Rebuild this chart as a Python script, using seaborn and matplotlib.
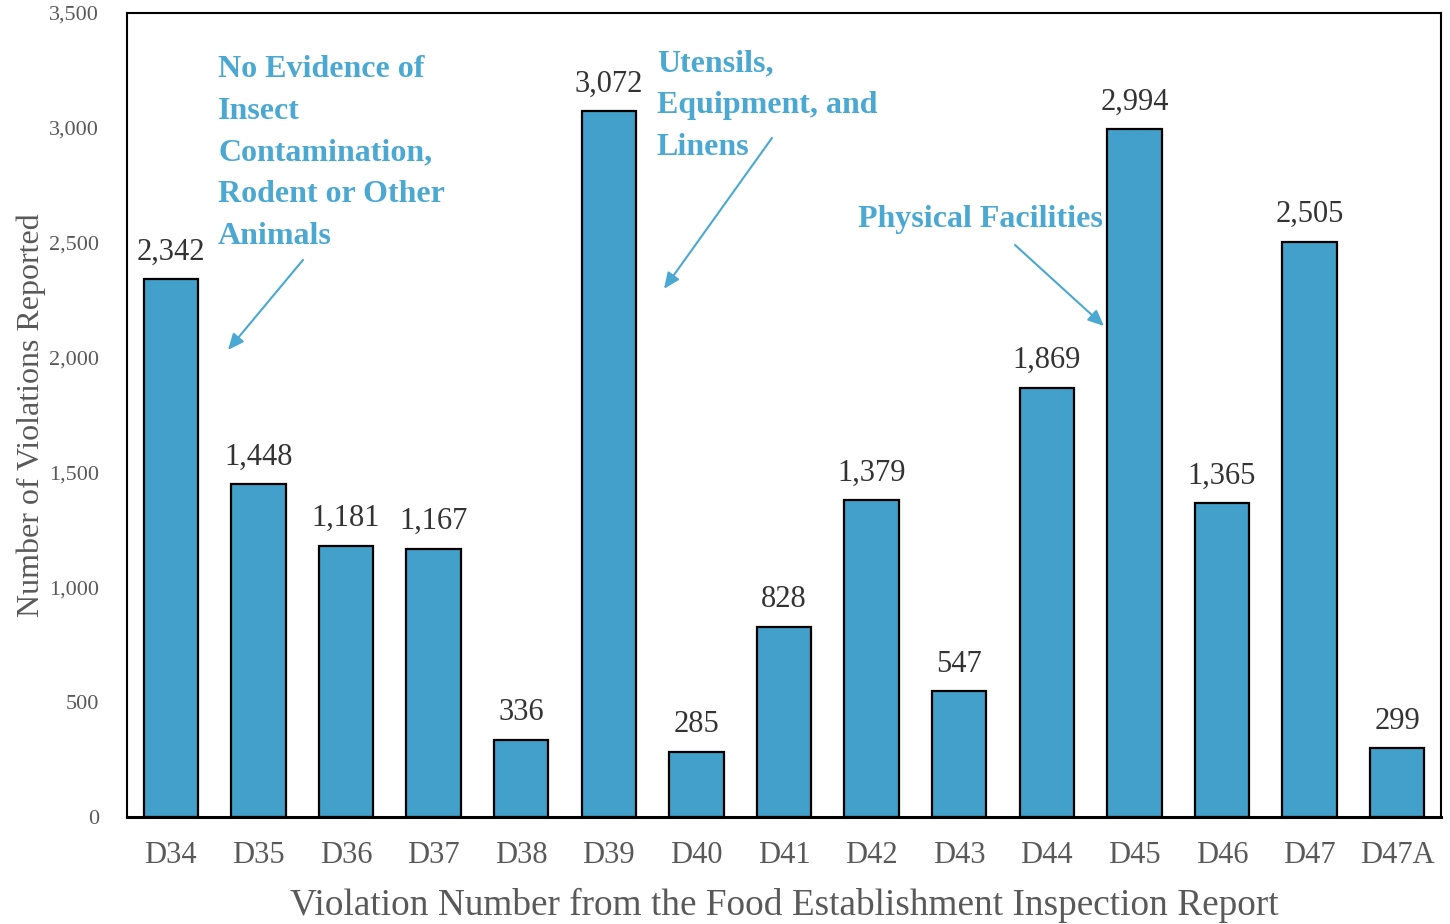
import matplotlib
matplotlib.use("Agg")
import matplotlib.pyplot as plt
import seaborn as sns
import pandas as pd
from matplotlib.ticker import FuncFormatter

categories = ["D34", "D35", "D36", "D37", "D38", "D39", "D40", "D41",
              "D42", "D43", "D44", "D45", "D46", "D47", "D47A"]
values = [2342, 1448, 1181, 1167, 336, 3072, 285, 828,
          1379, 547, 1869, 2994, 1365, 2505, 299]
yticks = [0, 500, 1000, 1500, 2000, 2500, 3000, 3500]

note1 = "No Evidence of\nInsect\nContamination,\nRodent or Other\nAnimals"
note2 = "Utensils,\nEquipment, and\nLinens"
note3 = "Physical Facilities"

sns.set_theme(style="white")
plt.rcParams['font.family'] = ['Liberation Serif', 'DejaVu Serif']

df = pd.DataFrame({"cat": categories, "val": values})

fig = plt.figure(figsize=(14.5, 9.24), dpi=100)
ax = fig.add_axes([0.0876, 0.1158, 0.9062, 0.8702])

bar_color = "#42A0CB"
sns.barplot(data=df, x="cat", y="val", color=bar_color, saturation=1,
            width=0.62, edgecolor="black", linewidth=1.6, ax=ax)

ax.set_xlim(-0.5, len(categories) - 0.5)
ax.set_ylim(0, 3500)
ax.set_yticks(yticks)
ax.yaxis.set_major_formatter(FuncFormatter(lambda v, p: f"{int(v):,}"))

for i, v in enumerate(values):
    ax.text(i, v + 55, f"{v:,}", ha="center", va="bottom",
            fontsize=22, color="#333333")

ax.tick_params(axis="x", labelsize=22, labelcolor="#595959", length=0, pad=17)
ax.tick_params(axis="y", labelsize=16, labelcolor="#595959", length=0, pad=20)

ax.set_xlabel("Violation Number from the Food Establishment Inspection Report",
              fontsize=26.8, color="#595959", labelpad=13)
ax.set_ylabel("Number of Violations Reported", fontsize=23,
              color="#595959", labelpad=2)

for s in ax.spines.values():
    s.set_visible(True)
    s.set_color("black")
    s.set_linewidth(1.5)
ax.spines["bottom"].set_linewidth(2.2)

note_color = "#4AA8D2"
ax.text(0.539, 3315, note1, ha="left", va="top", fontsize=23,
        fontweight="bold", color=note_color, linespacing=1.575)
ax.text(5.55, 3340, note2, ha="left", va="top", fontsize=23,
        fontweight="bold", color=note_color, linespacing=1.575)
ax.text(7.85, 2665, note3, ha="left", va="top", fontsize=23,
        fontweight="bold", color=note_color)

arrow_kw = dict(arrowstyle="-|>,head_length=0.8,head_width=0.35",
                color=note_color, lw=1.5, shrinkA=0, shrinkB=0)
ax.annotate("", xy=(0.653, 2033), xytext=(1.509, 2425), arrowprops=arrow_kw)
ax.annotate("", xy=(5.630, 2299), xytext=(6.863, 2956), arrowprops=arrow_kw)
ax.annotate("", xy=(10.653, 2137), xytext=(9.637, 2490), arrowprops=arrow_kw)

fig.savefig("out.png", dpi=100)
